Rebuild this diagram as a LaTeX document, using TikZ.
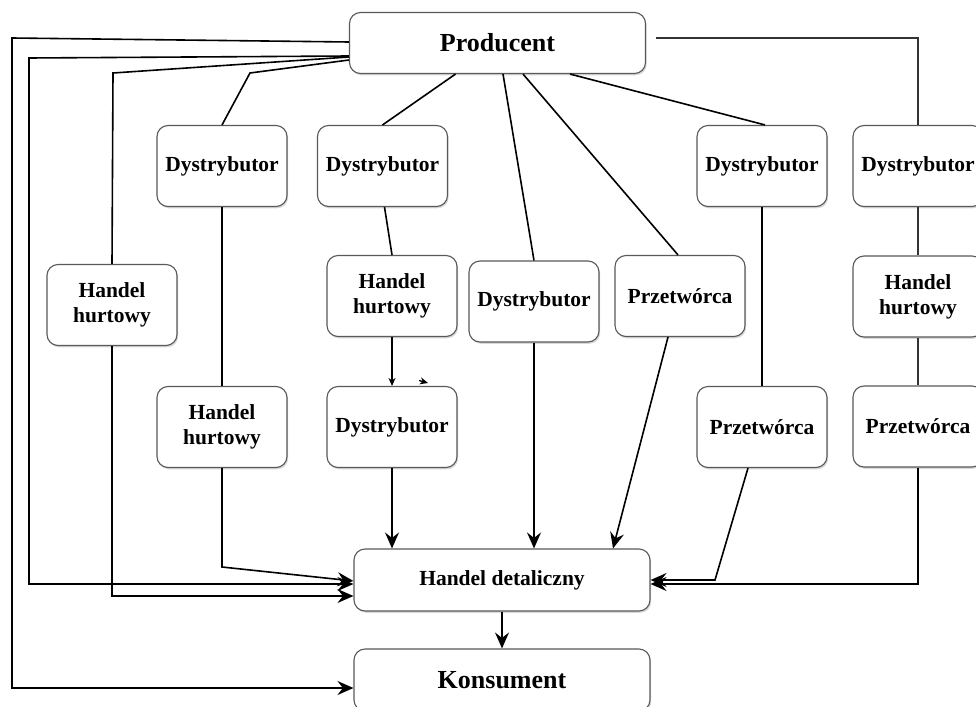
\documentclass[tikz,border=0pt]{standalone}
\usepackage{fontspec}
\setmainfont{Liberation Serif}
\usetikzlibrary{arrows.meta,shadows}
\tikzset{
  box/.style={draw=black!65, line width=1.1pt, rounded corners=11pt, fill=white,
    drop shadow={shadow xshift=1.2pt, shadow yshift=-1.8pt, opacity=0.3},
    minimum width=130pt, minimum height=81pt, align=center, inner sep=0pt,
    font=\bfseries\fontsize{21.5}{25}\selectfont},
  bigbox/.style={box, minimum width=296pt, minimum height=61pt,
    font=\bfseries\fontsize{26}{30}\selectfont},
  midbox/.style={box, minimum width=296pt, minimum height=62pt},
  conn/.style={draw=black, line width=1.6pt},
  arr/.style={conn, -{Stealth[length=16pt,width=14pt,inset=5.5pt]}},
  smallarr/.style={conn, line width=1.3pt, -{Stealth[length=8pt,width=7pt,inset=2.5pt]}},
}
\begin{document}
\begin{tikzpicture}[x=1pt,y=-1pt]
\useasboundingbox (0,0) rectangle (976,706);
\fill[white] (0,0) rectangle (976,706);

% nodes
\node[bigbox] (prod) at (497.5,43) {Producent};
\node[box] (d1) at (222,166) {Dystrybutor};
\node[box] (d2) at (382.5,166) {Dystrybutor};
\node[box] (d3) at (534,301.5) {Dystrybutor};
\node[box] (p1) at (680,296) {Przetwórca};
\node[box] (d4) at (762,166) {Dystrybutor};
\node[box] (d5) at (918,166) {Dystrybutor};
\node[box] (hh1) at (112,305) {Handel\\hurtowy};
\node[box] (hh3) at (392,296) {Handel\\hurtowy};
\node[box] (hh2) at (222,427) {Handel\\hurtowy};
\node[box] (dl) at (392,427) {Dystrybutor};
\node[box] (p2) at (762,427) {Przetwórca};
\node[box] (hh5) at (918,296.5) {Handel\\hurtowy};
\node[box] (p5) at (918,426.5) {Przetwórca};
\node[midbox] (hd) at (502,580) {Handel detaliczny};
\node[bigbox, minimum height=62pt] (kons) at (502,680) {Konsument};

% free ends
\coordinate (s1) at (419,380.5);
\coordinate (s2) at (428,383);

% left connectors from Producent
\draw[arr] ([yshift=1pt]prod.west) -- (12,38) |- ([yshift=-8pt]kons.west);
\draw[arr] ([yshift=-13pt]prod.west) -- (29,58) |- ([yshift=-4pt]hd.west);
\draw[conn] ([yshift=-14pt]prod.west) -- (113,73) -- (hh1.north);
\draw[arr] (hh1.south) -- (112,596) -- ([yshift=-16pt]hd.west);
\draw[conn] ([yshift=-17pt]prod.west) -- (250,73) -- (d1.north);
\draw[conn] (d1.south) -- (hh2.north);
\draw[arr] (hh2.south) -- (222,567) -- ([yshift=-1pt]hd.west);

% middle connectors
\draw[conn] ([xshift=-42pt]prod.south) -- (d2.north);
\draw[conn] ([xshift=2pt]d2.south) -- (hh3.north);
\draw[smallarr] (hh3.south) -- (dl.north);
\draw[smallarr] (s1) -- (s2);
\draw[arr] (dl.south) -- ([xshift=-110pt]hd.north);
\draw[conn] ([xshift=5.5pt]prod.south) -- (d3.north);
\draw[arr] (d3.south) -- (d3.south |- hd.north);
\draw[conn] ([xshift=25.5pt]prod.south) -- ([xshift=-2pt]p1.north);
\draw[arr] ([xshift=-12pt]p1.south) -- ([xshift=111pt]hd.north);
\draw[conn] ([xshift=72.5pt]prod.south) -- ([xshift=3pt]d4.north);
\draw[conn] (d4.south) -- (p2.north);
\draw[arr] ([xshift=-14pt]p2.south) -- (715,580) -- (hd.east);

% right loop
\draw[conn, draw=black!80] ([xshift=10pt,yshift=5pt]prod.east) -- (918,38) -- (d5.north);
\draw[conn, draw=black!80] (d5.south) -- (hh5.north);
\draw[conn, draw=black!80] (hh5.south) -- (p5.north);
\draw[arr] (p5.south) -- (918,584) -- ([yshift=-4pt]hd.east);

% to Konsument
\draw[arr] (hd.south) -- (kons.north);
\end{tikzpicture}
\end{document}
